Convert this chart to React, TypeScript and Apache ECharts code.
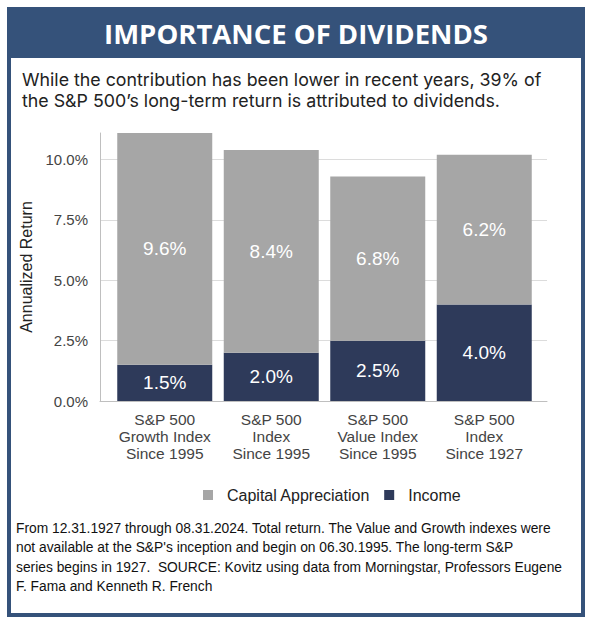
import React, { useEffect, useRef } from "react";
import * as echarts from "echarts";

const categories = [
  "S&P 500\nGrowth Index\nSince 1995",
  "S&P 500\nIndex\nSince 1995",
  "S&P 500\nValue Index\nSince 1995",
  "S&P 500\nIndex\nSince 1927",
];
const capitalAppreciation = [9.6, 8.4, 6.8, 6.2];
const income = [1.5, 2.0, 2.5, 4.0];
const yMin = 0;
const yMax = 11.1;
const yInterval = 2.5;

const titleText = "IMPORTANCE OF DIVIDENDS";
const subtitleLines = [
  "While the contribution has been lower in recent years, 39% of",
  "the S&P 500\u2019s long-term return is attributed to dividends.",
];
const footnoteLines = [
  "From 12.31.1927 through 08.31.2024. Total return. The Value and Growth indexes were",
  "not available at the S&P's inception and begin on 06.30.1995. The long-term S&P",
  "series begins in 1927.  SOURCE: Kovitz using data from Morningstar, Professors Eugene",
  "F. Fama and Kenneth R. French",
];

const NAVY = "#2e3a5a";
const GRAY = "#a6a6a6";
const FRAME = "#35527a";
const SANS = "'Liberation Sans', Arial, Helvetica, sans-serif";
const HEAD = "'Open Sans', 'Noto Sans', sans-serif";
const SUB = "Inter, 'Open Sans', sans-serif";

export default function App() {
  const ref = useRef<HTMLDivElement>(null);
  useEffect(() => {
    document.body.style.margin = "0";
    const chart = echarts.init(ref.current!, undefined, { renderer: "svg" });
    const pct = (v: number) => v.toFixed(1) + "%";
    const subtitleEls = subtitleLines.map((t, i) => ({
      type: "text",
      x: 22,
      y: 79 + i * 21.8,
      style: {
        text: t,
        fill: "#222",
        font: `17.8px ${SUB}`,
        lineHeight: 19.5,
        align: "left",
        verticalAlign: "middle",
      },
    }));
    const footEls = footnoteLines.map((t, i) => ({
      type: "text",
      x: 16,
      y: 528 + i * 19.5,
      style: {
        text: t,
        fill: "#111",
        font: `13.8px ${SANS}`,
        lineHeight: 18,
        align: "left",
        verticalAlign: "middle",
      },
    }));
    chart.setOption({
      animation: false,
      backgroundColor: "#fff",
      textStyle: { fontFamily: SANS },
      graphic: [
        {
          type: "rect",
          z: -10,
          shape: { x: 9, y: 9, width: 574, height: 606 },
          style: { fill: "#fff", stroke: FRAME, lineWidth: 4 },
        },
        {
          type: "rect",
          z: -9,
          shape: { x: 7, y: 7, width: 578, height: 51 },
          style: { fill: FRAME },
        },
        {
          type: "text",
          x: 296,
          y: 33,
          style: {
            text: titleText,
            fill: "#fff",
            font: `bold 27.5px ${HEAD}`,
            align: "center",
            verticalAlign: "middle",
          },
        },
        ...subtitleEls,
        ...footEls,
      ],
      legend: {
        data: ["Capital Appreciation", "Income"],
        left: 203,
        top: 487,
        padding: 0,
        icon: "rect",
        itemWidth: 10,
        itemHeight: 10,
        itemGap: 14,
        textStyle: { fontSize: 16, color: "#222", fontFamily: SANS, padding: [0, 0, 0, 9] },
      },
      grid: [
        { left: 100, right: 45, top: 133, bottom: 225 },
        { left: 111.5, right: 54.5, top: 133, bottom: 225 },
      ],
      xAxis: [
        {
          gridIndex: 0,
          type: "value",
          min: 0,
          max: 1,
          axisLine: { show: true, lineStyle: { color: "#bfbfbf", width: 1 } },
          axisTick: { show: false },
          axisLabel: { show: false },
          splitLine: { show: false },
        },
        {
          gridIndex: 1,
          type: "category",
          data: categories,
          axisLine: { show: false },
          axisTick: { show: false },
          axisLabel: {
            interval: 0,
            fontSize: 15.5,
            color: "#444",
            lineHeight: 17,
            margin: 10,
            fontFamily: SANS,
          },
        },
      ],
      yAxis: [
        {
          gridIndex: 0,
          type: "value",
          min: yMin,
          max: yMax,
          interval: yInterval,
          axisLine: { show: true, lineStyle: { color: "#bfbfbf", width: 1 } },
          axisTick: { show: false },
          axisLabel: {
            formatter: (v: number) => pct(v),
            showMaxLabel: false,
            fontSize: 15,
            color: "#444",
            margin: 12,
            fontFamily: SANS,
          },
          splitLine: { show: true, showMaxLine: false, lineStyle: { color: "#dcdcdc", width: 1 } },
          name: "Annualized Return",
          nameLocation: "middle",
          nameGap: 59,
          nameTextStyle: { fontSize: 16, color: "#222", fontFamily: SANS },
        },
        {
          gridIndex: 1,
          type: "value",
          min: yMin,
          max: yMax,
          interval: yInterval,
          show: false,
          splitLine: { show: false },
        },
      ],
      series: [
        {
          name: "Income",
          type: "bar",
          stack: "total",
          xAxisIndex: 1,
          yAxisIndex: 1,
          barWidth: 95,
          data: income,
          itemStyle: { color: NAVY },
          label: {
            show: true,
            position: "inside",
            color: "#fff",
            fontSize: 19,
            fontFamily: SANS,
            formatter: (p: any) => pct(p.value),
          },
        },
        {
          name: "Capital Appreciation",
          type: "bar",
          stack: "total",
          xAxisIndex: 1,
          yAxisIndex: 1,
          barWidth: 95,
          data: capitalAppreciation,
          itemStyle: { color: GRAY },
          label: {
            show: true,
            position: "inside",
            color: "#fff",
            fontSize: 19,
            fontFamily: SANS,
            formatter: (p: any) => pct(p.value),
          },
        },
      ],
    });
    return () => chart.dispose();
  }, []);
  return <div ref={ref} style={{ width: 592, height: 626 }} />;
}
